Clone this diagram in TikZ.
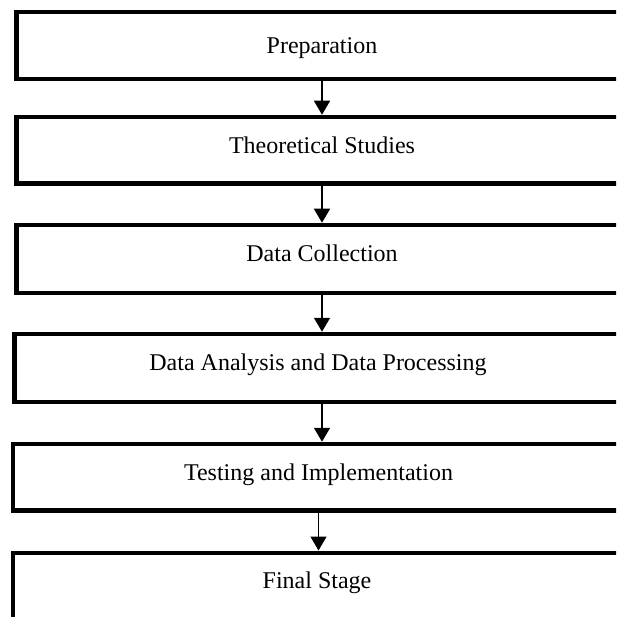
\documentclass[tikz,border=0pt]{standalone}
\usepackage{fontspec}
\setmainfont{Liberation Serif}
\usetikzlibrary{arrows.meta}

\begin{document}
\begin{tikzpicture}[x=1pt, y=-1pt,
    stufe/.style={draw=black, line width=4.5pt, inner sep=0pt,
        minimum height=67pt, text height=16pt,
        font=\fontsize{24}{28}\selectfont},
    pfeil/.style={-{Triangle[width=16pt, length=14pt]}, line width=1.5pt}]

    % Bildausschnitt (Kästen laufen rechts und unten aus dem Bild)
    \useasboundingbox (0,0) rectangle (616,617);
    \clip (0,0) rectangle (616,617);

    % ==========================================
    % KÄSTEN DER ARBEITSSCHRITTE
    % ==========================================
    \node[stufe, minimum width=611pt, text depth=0pt] (prep) at (322,45.5) {Preparation};
    \node[stufe, minimum width=611pt, minimum height=66.5pt, text depth=10pt] (theory) at (322,150.25) {Theoretical Studies};
    \node[stufe, minimum width=611pt, minimum height=68pt, text depth=11pt] (collect) at (322,259) {Data Collection};
    \node[stufe, minimum width=606.6pt, minimum height=68pt, text depth=12pt] (analysis) at (318,368) {Data Analysis and Data Processing};
    \node[stufe, minimum width=611pt, minimum height=66.5pt, text depth=9pt] (testing) at (318.5,477.25) {Testing and Implementation};
    \node[stufe, minimum width=608pt, minimum height=66.5pt, text depth=11pt] (final) at (317,586) {Final Stage};

    % ==========================================
    % PFEILE ZWISCHEN DEN KÄSTEN
    % ==========================================
    \draw[pfeil] (prep.south) -- (theory.north);
    \draw[pfeil] (theory.south) -- (collect.north);
    \draw[pfeil] (collect.south) -- (analysis.north -| collect.south);
    \draw[pfeil] (analysis.south -| collect.south) -- (testing.north -| collect.south);
    \draw[pfeil] (testing.south) -- (final.north -| testing.south);

\end{tikzpicture}
\end{document}
